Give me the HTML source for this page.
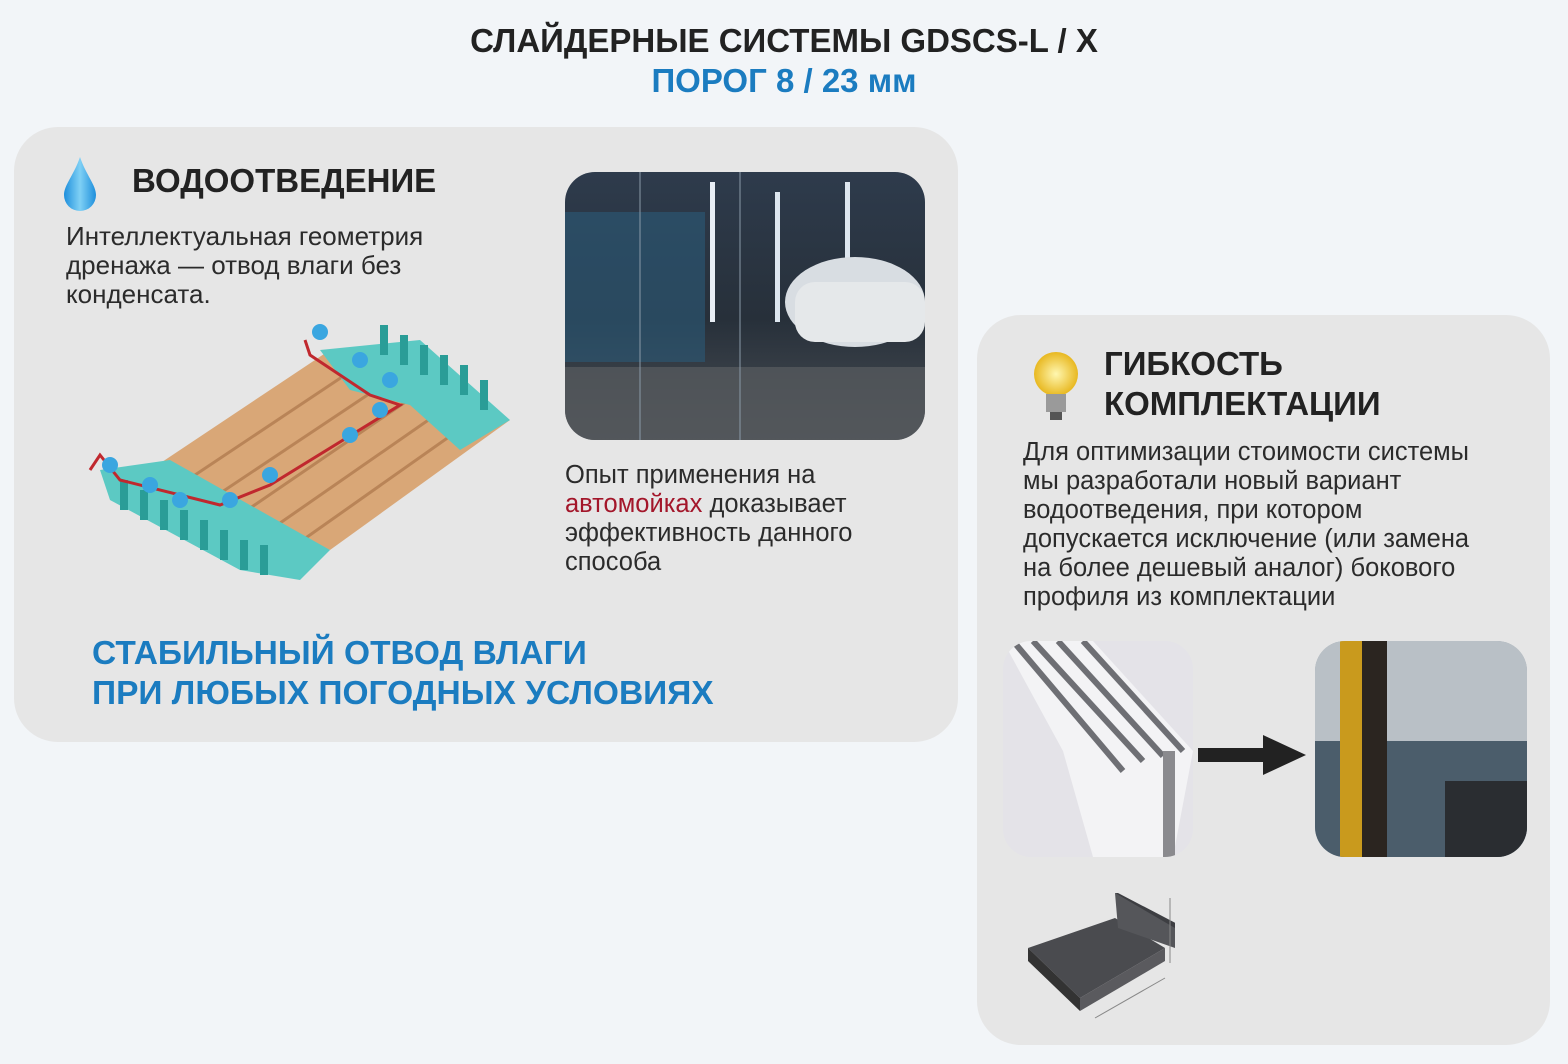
<!DOCTYPE html>
<html><head><meta charset="utf-8"><style>
body{margin:0;width:1568px;height:1064px;background:#f2f5f8;font-family:"Liberation Sans",sans-serif;position:relative;overflow:hidden}
.a{position:absolute;white-space:nowrap}
.panel{position:absolute;background:#e6e6e6;border-radius:44px}
.h{font-weight:bold;color:#222}
.t{font-size:26px;color:#2b2b2b;line-height:29px}
.blue{color:#1b7cc0}
</style></head><body>
<div class="a h" style="left:0;width:1568px;text-align:center;top:22px;font-size:33px">СЛАЙДЕРНЫЕ СИСТЕМЫ GDSCS-L / X</div>
<div class="a h blue" style="left:0;width:1568px;text-align:center;top:62px;font-size:33px">ПОРОГ 8 / 23 мм</div>

<div class="panel" style="left:14px;top:127px;width:944px;height:615px"></div>
<div class="panel" style="left:977px;top:315px;width:573px;height:730px"></div>

<svg class="a" style="left:60px;top:155px" width="40" height="60"><defs><linearGradient id="g" x1="0" x2="1"><stop offset="0" stop-color="#1e8fdc"/><stop offset="0.5" stop-color="#7fd0f5"/><stop offset="1" stop-color="#1e8fdc"/></linearGradient></defs><path d="M20 2 C14 20 4 30 4 40 A16 16 0 0 0 36 40 C36 30 26 20 20 2Z" fill="url(#g)"/></svg>
<div class="a h" style="left:132px;top:162px;font-size:33px">ВОДООТВЕДЕНИЕ</div>
<div class="a t" style="left:66px;top:222px">Интеллектуальная геометрия<br>дренажа — отвод влаги без<br>конденсата.</div>

<svg class="a" style="left:80px;top:320px" width="440" height="270">
<polygon points="70,150 250,30 430,100 250,230" fill="#d9a777"/>
<g stroke="#b98457" stroke-width="3"><line x1="100" y1="165" x2="280" y2="45"/><line x1="130" y1="180" x2="310" y2="60"/><line x1="160" y1="195" x2="340" y2="72"/><line x1="190" y1="210" x2="370" y2="85"/><line x1="220" y1="222" x2="400" y2="95"/></g>
<polygon points="240,30 340,20 430,100 380,130 330,85 270,70" fill="#5cc9c3"/>
<polygon points="20,150 90,140 250,230 220,260 160,250 30,180" fill="#5cc9c3"/>
<g fill="#2a9d97"><rect x="40" y="160" width="8" height="30"/><rect x="60" y="170" width="8" height="30"/><rect x="80" y="180" width="8" height="30"/><rect x="100" y="190" width="8" height="30"/><rect x="120" y="200" width="8" height="30"/><rect x="140" y="210" width="8" height="30"/><rect x="160" y="220" width="8" height="30"/><rect x="180" y="225" width="8" height="30"/>
<rect x="300" y="5" width="8" height="30"/><rect x="320" y="15" width="8" height="30"/><rect x="340" y="25" width="8" height="30"/><rect x="360" y="35" width="8" height="30"/><rect x="380" y="45" width="8" height="30"/><rect x="400" y="60" width="8" height="30"/></g>
<polyline points="10,150 20,135 40,160 140,185 190,165 320,85 290,75 230,35 225,20" fill="none" stroke="#c0282e" stroke-width="3"/>
<g fill="#3aa6e0"><circle cx="30" cy="145" r="8"/><circle cx="70" cy="165" r="8"/><circle cx="100" cy="180" r="8"/><circle cx="150" cy="180" r="8"/><circle cx="190" cy="155" r="8"/><circle cx="270" cy="115" r="8"/><circle cx="300" cy="90" r="8"/><circle cx="310" cy="60" r="8"/><circle cx="280" cy="40" r="8"/><circle cx="240" cy="12" r="8"/></g>
</svg>

<svg class="a" style="left:565px;top:172px" width="360" height="268"><defs><clipPath id="c1"><rect width="360" height="268" rx="30"/></clipPath><linearGradient id="f" x1="0" y1="0" x2="0" y2="1"><stop offset="0" stop-color="#2e3b4c"/><stop offset="0.55" stop-color="#27303a"/><stop offset="1" stop-color="#4a4f55"/></linearGradient></defs>
<g clip-path="url(#c1)"><rect width="360" height="268" fill="url(#f)"/><rect x="0" y="40" width="140" height="150" fill="#2c5a78" opacity="0.6"/><rect x="145" y="10" width="5" height="140" fill="#e8eef5"/><rect x="210" y="20" width="5" height="130" fill="#dde6ef"/><rect x="280" y="10" width="5" height="110" fill="#dde6ef"/><ellipse cx="290" cy="130" rx="70" ry="45" fill="#d8dde2"/><rect x="230" y="110" width="130" height="60" fill="#e5e8ea" rx="20"/><rect x="0" y="195" width="360" height="73" fill="#55595d" opacity="0.8"/><line x1="75" y1="0" x2="75" y2="268" stroke="#8a9aa8"/><line x1="175" y1="0" x2="175" y2="268" stroke="#8a9aa8"/></g></svg>
<div class="a t" style="left:565px;top:461px;font-size:25.5px">Опыт применения на<br><span style="color:#a3162a">автомойках</span> доказывает<br>эффективность данного<br>способа</div>

<div class="a h blue" style="left:92px;top:634px;font-size:33.5px;line-height:40px">СТАБИЛЬНЫЙ ОТВОД ВЛАГИ<br>ПРИ ЛЮБЫХ ПОГОДНЫХ УСЛОВИЯХ</div>

<svg class="a" style="left:1030px;top:350px" width="52" height="75"><defs><radialGradient id="b"><stop offset="0" stop-color="#fff7b0"/><stop offset="1" stop-color="#e8b820"/></radialGradient></defs><circle cx="26" cy="24" r="22" fill="url(#b)"/><rect x="16" y="44" width="20" height="18" fill="#9a9a9a"/><rect x="20" y="62" width="12" height="8" fill="#555"/></svg>
<div class="a h" style="left:1104px;top:344px;font-size:33px;line-height:40px">ГИБКОСТЬ<br>КОМПЛЕКТАЦИИ</div>
<div class="a t" style="left:1023px;top:438px;font-size:25.5px">Для оптимизации стоимости системы<br>мы разработали новый вариант<br>водоотведения, при котором<br>допускается исключение (или замена<br>на более дешевый аналог) бокового<br>профиля из комплектации</div>

<svg class="a" style="left:1003px;top:641px" width="190" height="216"><defs><clipPath id="c2"><rect width="190" height="216" rx="28"/></clipPath></defs><g clip-path="url(#c2)"><rect width="190" height="216" fill="#e4e3e8"/><polygon points="0,0 90,0 190,110 170,216 90,216 60,110" fill="#f3f3f5"/><g stroke="#6e6f74" stroke-width="6"><line x1="10" y1="0" x2="120" y2="130"/><line x1="30" y1="0" x2="140" y2="120"/><line x1="55" y1="0" x2="160" y2="115"/><line x1="80" y1="0" x2="180" y2="110"/></g><rect x="160" y="110" width="12" height="106" fill="#8a8a8e"/></g></svg>
<svg class="a" style="left:1198px;top:735px" width="110" height="40"><rect x="0" y="13" width="70" height="14" fill="#222"/><polygon points="65,0 108,20 65,40" fill="#222"/></svg>
<svg class="a" style="left:1315px;top:641px" width="212" height="216"><defs><clipPath id="c3"><rect width="212" height="216" rx="30"/></clipPath></defs><g clip-path="url(#c3)"><rect width="212" height="216" fill="#9aa4ad"/><rect y="0" width="212" height="100" fill="#b9c0c6"/><rect y="100" width="212" height="116" fill="#4b5d6b"/><rect x="130" y="140" width="82" height="76" fill="#2a2d31"/><rect x="25" y="0" width="22" height="216" fill="#c99a1d"/><rect x="47" y="0" width="25" height="216" fill="#2b2520"/></g></svg>
<svg class="a" style="left:1025px;top:893px" width="150" height="130"><polygon points="3,55 90,25 140,55 55,105" fill="#4a4b4f"/><polygon points="3,55 55,105 55,118 3,68" fill="#333"/><polygon points="55,105 140,55 140,68 55,118" fill="#5a5a5e"/><polygon points="90,0 93,0 160,35 150,40" fill="#3d3e42"/><polygon points="90,0 93,35 150,55 150,35" fill="#55565a"/><line x1="70" y1="125" x2="140" y2="85" stroke="#888"/><line x1="145" y1="5" x2="145" y2="70" stroke="#888"/></svg>
</body></html>
